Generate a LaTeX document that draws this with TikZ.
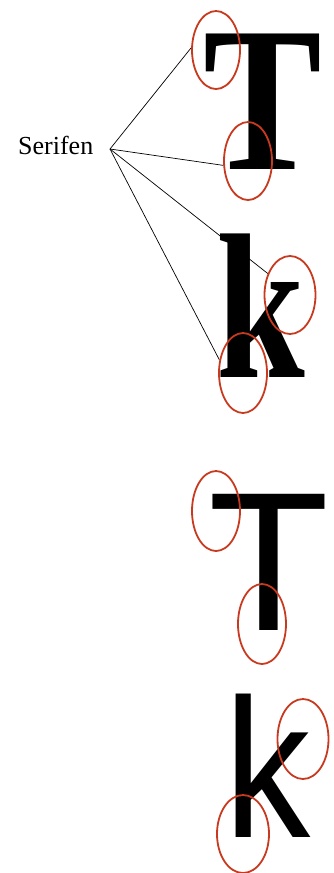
\documentclass[tikz,border=0pt]{standalone}
\usepackage{fontspec}
\setmainfont{Liberation Serif}
\newfontfamily\sansglyph{Liberation Sans}
\usetikzlibrary{shapes.geometric, backgrounds}
\definecolor{ringred}{RGB}{200,58,32}

\begin{document}
\begin{tikzpicture}[
  x=1pt, y=-1pt,
  glyph/.style={inner sep=0pt, anchor=base},
  serifglyph/.style={glyph, font=\fontsize{207}{207}\selectfont\bfseries},
  sansletter/.style={glyph, font=\fontsize{198}{198}\selectfont\sansglyph},
  ring/.style={ellipse, draw=ringred, line width=1.8pt, inner sep=0pt,
    minimum width=48pt, minimum height=78pt},
  pointer/.style={draw, line width=0.7pt}
]
\useasboundingbox (0,0) rectangle (334,873);

\node[inner sep=0pt, anchor=base west, font=\fontsize{26}{26}\selectfont] (serifen) at (18,154) {Serifen};
\coordinate (fan) at (110,149);

% serif letters
\node[serifglyph, xscale=0.86] (T1) at (262.5,169) {T};
\node[serifglyph, xscale=0.77] (k1) at (261,377) {k};

% sans letters
\node[sansletter] (T2) at (269,630) {T};
\node[sansletter, xscale=0.87] (k2) at (268,837) {k};

% rings
\node[ring] (r1) at (216,50) {};
\node[ring] (r2) at (248,161) {};
\node[ring, minimum width=51pt] (r3) at (290,295) {};
\node[ring, minimum height=80pt] (r4) at (243,373) {};
\node[ring, minimum height=80pt] (r5) at (216,511) {};
\node[ring, minimum height=80pt] (r6) at (262,624) {};
\node[ring, minimum width=51pt, minimum height=80pt] (r7) at (303,739) {};
\node[ring, minimum width=52pt] (r8) at (243,834) {};

\begin{scope}[on background layer]
\draw[pointer] (fan) -- (r1.175);
\draw[pointer] (fan) -- (r2.190);
\draw[pointer] (fan) -- (r3.136);
\draw[pointer] (fan) -- (r4.151);
\end{scope}
\end{tikzpicture}
\end{document}
